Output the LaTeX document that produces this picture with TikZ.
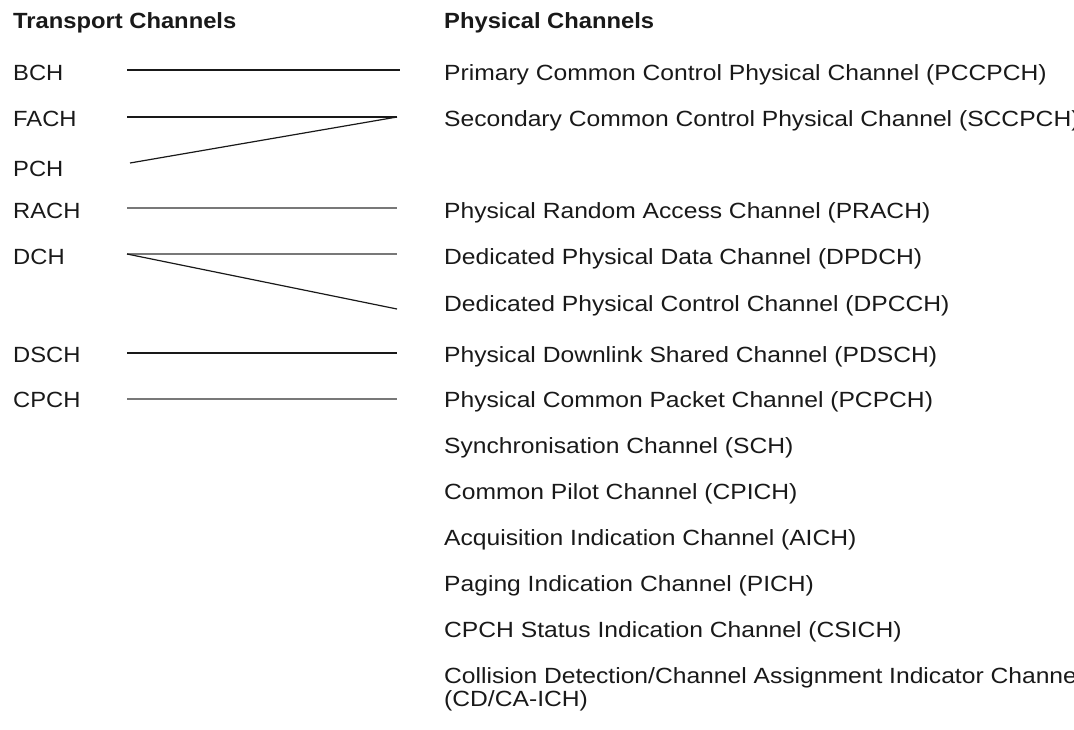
\documentclass[tikz,border=0pt]{standalone}
\usepackage{fontspec}
\setmainfont{Liberation Sans}
\usetikzlibrary{positioning}
\definecolor{inkdark}{RGB}{25, 25, 25}
\definecolor{inkgrey}{RGB}{120, 120, 120}
\tikzset{
  hdr/.style={anchor=base west, inner sep=0pt, text=inkdark, font=\fontsize{22}{23}\selectfont\bfseries},
  chan/.style={anchor=base west, inner sep=0pt, text=inkdark, font=\fontsize{22}{23}\selectfont},
  darklink/.style={draw=inkdark, line width=1.2pt},
  greylink/.style={draw=inkgrey, line width=1.2pt},
}
% both columns are set a little wide
\newcommand{\leftlbl}[1]{\scalebox{1.08}[1]{#1}}
\newcommand{\rightlbl}[1]{\scalebox{1.12}[1]{#1}}

\begin{document}
\begin{tikzpicture}[x=1pt, y=-1pt]
\useasboundingbox (0,0) rectangle (1074,729);
\clip (0,0) rectangle (1074,729);

% headings
\node[hdr] (thead) at (13,28) {\leftlbl{Transport Channels}};
\node[hdr] (phead) at (444,28) {\leftlbl{Physical Channels}};

% transport channels
\node[chan] (BCH)  at (13,80)  {\leftlbl{BCH}};
\node[chan] (FACH) at (13,126) {\leftlbl{FACH}};
\node[chan] (PCH)  at (13,176) {\leftlbl{PCH}};
\node[chan] (RACH) at (13,218) {\leftlbl{RACH}};
\node[chan] (DCH)  at (13,264) {\leftlbl{DCH}};
\node[chan] (DSCH) at (13,362) {\leftlbl{DSCH}};
\node[chan] (CPCH) at (13,407) {\leftlbl{CPCH}};

% physical channels
\node[chan] (PCCPCH) at (444,80)  {\rightlbl{Primary Common Control Physical Channel (PCCPCH)}};
\node[chan] (SCCPCH) at (444,126) {\rightlbl{Secondary Common Control Physical Channel (SCCPCH)}};
\node[chan] (PRACH)  at (444,218) {\rightlbl{Physical Random Access Channel (PRACH)}};
\node[chan] (DPDCH)  at (444,264) {\rightlbl{Dedicated Physical Data Channel (DPDCH)}};
\node[chan] (DPCCH)  at (444,311) {\rightlbl{Dedicated Physical Control Channel (DPCCH)}};
\node[chan] (PDSCH)  at (444,362) {\rightlbl{Physical Downlink Shared Channel (PDSCH)}};
\node[chan] (PCPCH)  at (444,407) {\rightlbl{Physical Common Packet Channel (PCPCH)}};
\node[chan] (SCH)    at (444,453) {\rightlbl{Synchronisation Channel (SCH)}};
\node[chan] (CPICH)  at (444,499) {\rightlbl{Common Pilot Channel (CPICH)}};
\node[chan] (AICH)   at (444,545) {\rightlbl{Acquisition Indication Channel (AICH)}};
\node[chan] (PICH)   at (444,591) {\rightlbl{Paging Indication Channel (PICH)}};
\node[chan] (CSICH)  at (444,637) {\rightlbl{CPCH Status Indication Channel (CSICH)}};
\node[chan] (CDCA)   at (444,683) {\rightlbl{Collision Detection/Channel Assignment Indicator Channel}};
\node[chan] (CDCAb)  at (444,706) {\rightlbl{(CD/CA-ICH)}};

% line ends
\coordinate (BCH-e)  at (127,70);
\coordinate (FACH-e) at (127,117);
\coordinate (PCH-e)  at (130,163);
\coordinate (RACH-e) at (127,208);
\coordinate (DCH-e)  at (127,254);
\coordinate (DSCH-e) at (127,353);
\coordinate (CPCH-e) at (127,399);
\coordinate (PCCPCH-e) at (400,70);
\coordinate (SCCPCH-e) at (397,117);
\coordinate (PRACH-e)  at (397,208);
\coordinate (DPDCH-e)  at (397,254);
\coordinate (DPCCH-e)  at (397,309);
\coordinate (PDSCH-e)  at (397,353);
\coordinate (PCPCH-e)  at (397,399);

% mapping
\draw[darklink] (BCH-e) -- (PCCPCH-e);
\draw[darklink] (FACH-e) -- (SCCPCH-e);
\draw[darklink] (PCH-e) -- (SCCPCH-e);
\draw[greylink] (RACH-e) -- (PRACH-e);
\draw[greylink] (DCH-e) -- (DPDCH-e);
\draw[darklink] (DCH-e) -- (DPCCH-e);
\draw[darklink] (DSCH-e) -- (PDSCH-e);
\draw[greylink] (CPCH-e) -- (PCPCH-e);
\end{tikzpicture}
\end{document}
